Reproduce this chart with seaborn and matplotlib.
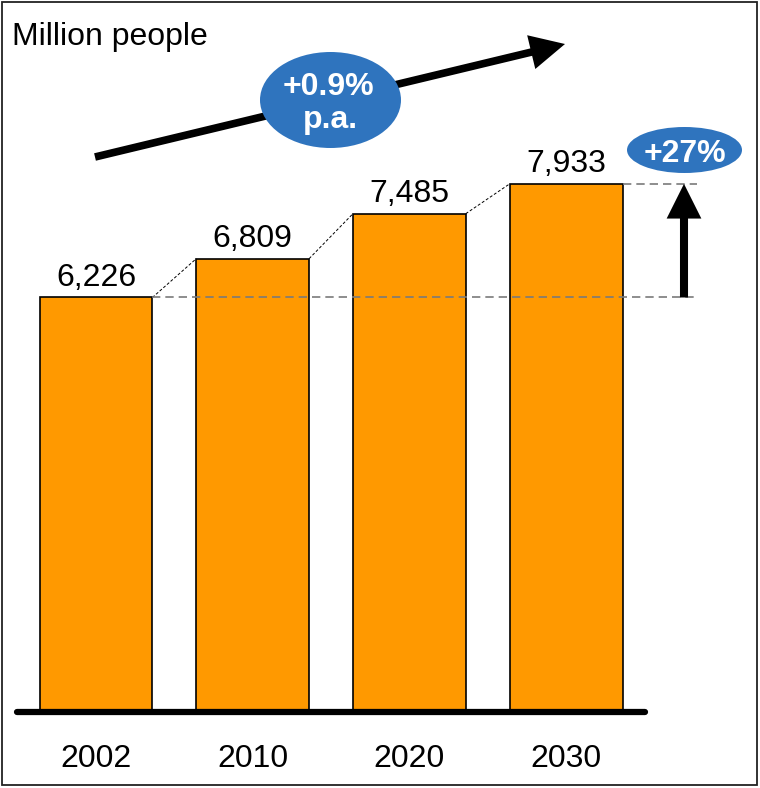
import matplotlib
matplotlib.use('Agg')
import matplotlib.pyplot as plt
import seaborn as sns
import pandas as pd
from matplotlib.patches import Ellipse, FancyArrowPatch, Rectangle

# ---- data ----
years = ['2002', '2010', '2020', '2030']
population = [6226, 6809, 7485, 7933]
value_labels = ['6,226', '6,809', '7,485', '7,933']
unit_label = 'Million people'
cagr_lines = ['+0.9%', 'p.a.']
growth_label = '+27%'

sns.set_theme(style='white')
plt.rcParams['font.family'] = ['Liberation Sans', 'DejaVu Sans']

W, H = 760, 788
fig = plt.figure(figsize=(W / 100, H / 100), dpi=100)
fig.patch.set_facecolor('white')
ax = fig.add_axes([0, 0, 1, 1])
ax.set_facecolor('white')

df = pd.DataFrame({'year': years, 'pop': population})
bar_w = 0.72
sns.barplot(data=df, x='year', y='pop', color='#FF9900', saturation=1,
            edgecolor='black', linewidth=1.2, width=bar_w, ax=ax, zorder=2)

# pixel -> data mapping helpers (layout only)
ppx = 156.7            # pixels per category unit
x0 = -96 / ppx
upp = 15.02            # data units per pixel (y)
ax.set_xlim(x0, x0 + W / ppx)
ax.set_ylim(-(H - 712) * upp, 712 * upp)
ax.axis('off')


def px(x):
    return x0 + x / ppx


def fx(x):
    return x / W


def fy(y):
    return 1 - y / H


FS = 23
half = bar_w / 2

# baseline
ax.plot([px(17), px(645)], [0, 0], color='black', lw=4.5,
        solid_capstyle='round', zorder=4, clip_on=False)

# value labels
for i, lab in enumerate(value_labels):
    ax.annotate(lab, (i, population[i]), xytext=(0, 8.6), textcoords='offset points',
                ha='center', va='baseline', fontsize=FS, color='black')

# year labels
for i, yr in enumerate(years):
    ax.annotate(yr, (i, 0), xytext=(0, -39.6), textcoords='offset points',
                ha='center', va='baseline', fontsize=FS, color='black')

# connector lines between bar tops
for i in range(len(population) - 1):
    ax.plot([i + half, i + 1 - half], [population[i], population[i + 1]],
            color='black', lw=0.7, ls=(0, (3, 2)), zorder=3)

# reference dashed lines
xr = px(697)
ax.plot([0 + half, xr], [population[0]] * 2, color='#7a7a7a', lw=1.2,
        ls=(0, (5, 3)), zorder=3)
ax.plot([len(population) - 1 + half, xr], [population[-1]] * 2, color='#7a7a7a',
        lw=1.2, ls=(0, (5, 3)), zorder=3)

# vertical growth arrow
xa = px(684)
arr = FancyArrowPatch((xa, population[0]), (xa, population[-1]),
                      arrowstyle='simple,head_length=25,head_width=25,tail_width=5.8',
                      mutation_scale=1, color='black', lw=0, shrinkA=0, shrinkB=0,
                      zorder=5)
ax.add_patch(arr)

blue = '#2F74BE'

# +27% ellipse
e2 = Ellipse((fx(684.5), fy(150)), 115 / W, 46 / H, transform=fig.transFigure,
             facecolor=blue, edgecolor='none', zorder=6)
fig.add_artist(e2)
fig.text(fx(684.5), fy(162), growth_label, ha='center', va='baseline',
         fontsize=FS, fontweight='bold', color='white', zorder=7)

# trend arrow
big = FancyArrowPatch((fx(95), fy(157)), (fx(565), fy(44)), transform=fig.transFigure,
                      arrowstyle='simple,head_length=25,head_width=25,tail_width=5.5',
                      mutation_scale=1, color='black', lw=0, shrinkA=0, shrinkB=0,
                      zorder=5)
fig.add_artist(big)

e1 = Ellipse((fx(330.5), fy(100)), 141 / W, 96 / H, transform=fig.transFigure,
             facecolor=blue, edgecolor='none', zorder=6)
fig.add_artist(e1)
fig.text(fx(328), fy(95), cagr_lines[0], ha='center', va='baseline',
         fontsize=FS, fontweight='bold', color='white', zorder=7)
fig.text(fx(330.5), fy(128), cagr_lines[1], ha='center', va='baseline',
         fontsize=FS, fontweight='bold', color='white', zorder=7)

# unit label
fig.text(fx(12), fy(45), unit_label, ha='left', va='baseline', fontsize=FS, color='black')

# outer frame
fig.add_artist(Rectangle((fx(2), fy(785)), 755 / W, 783 / H, transform=fig.transFigure,
                         fill=False, edgecolor='#222222', lw=1.3, zorder=10))

fig.savefig('out.png', dpi=100)
